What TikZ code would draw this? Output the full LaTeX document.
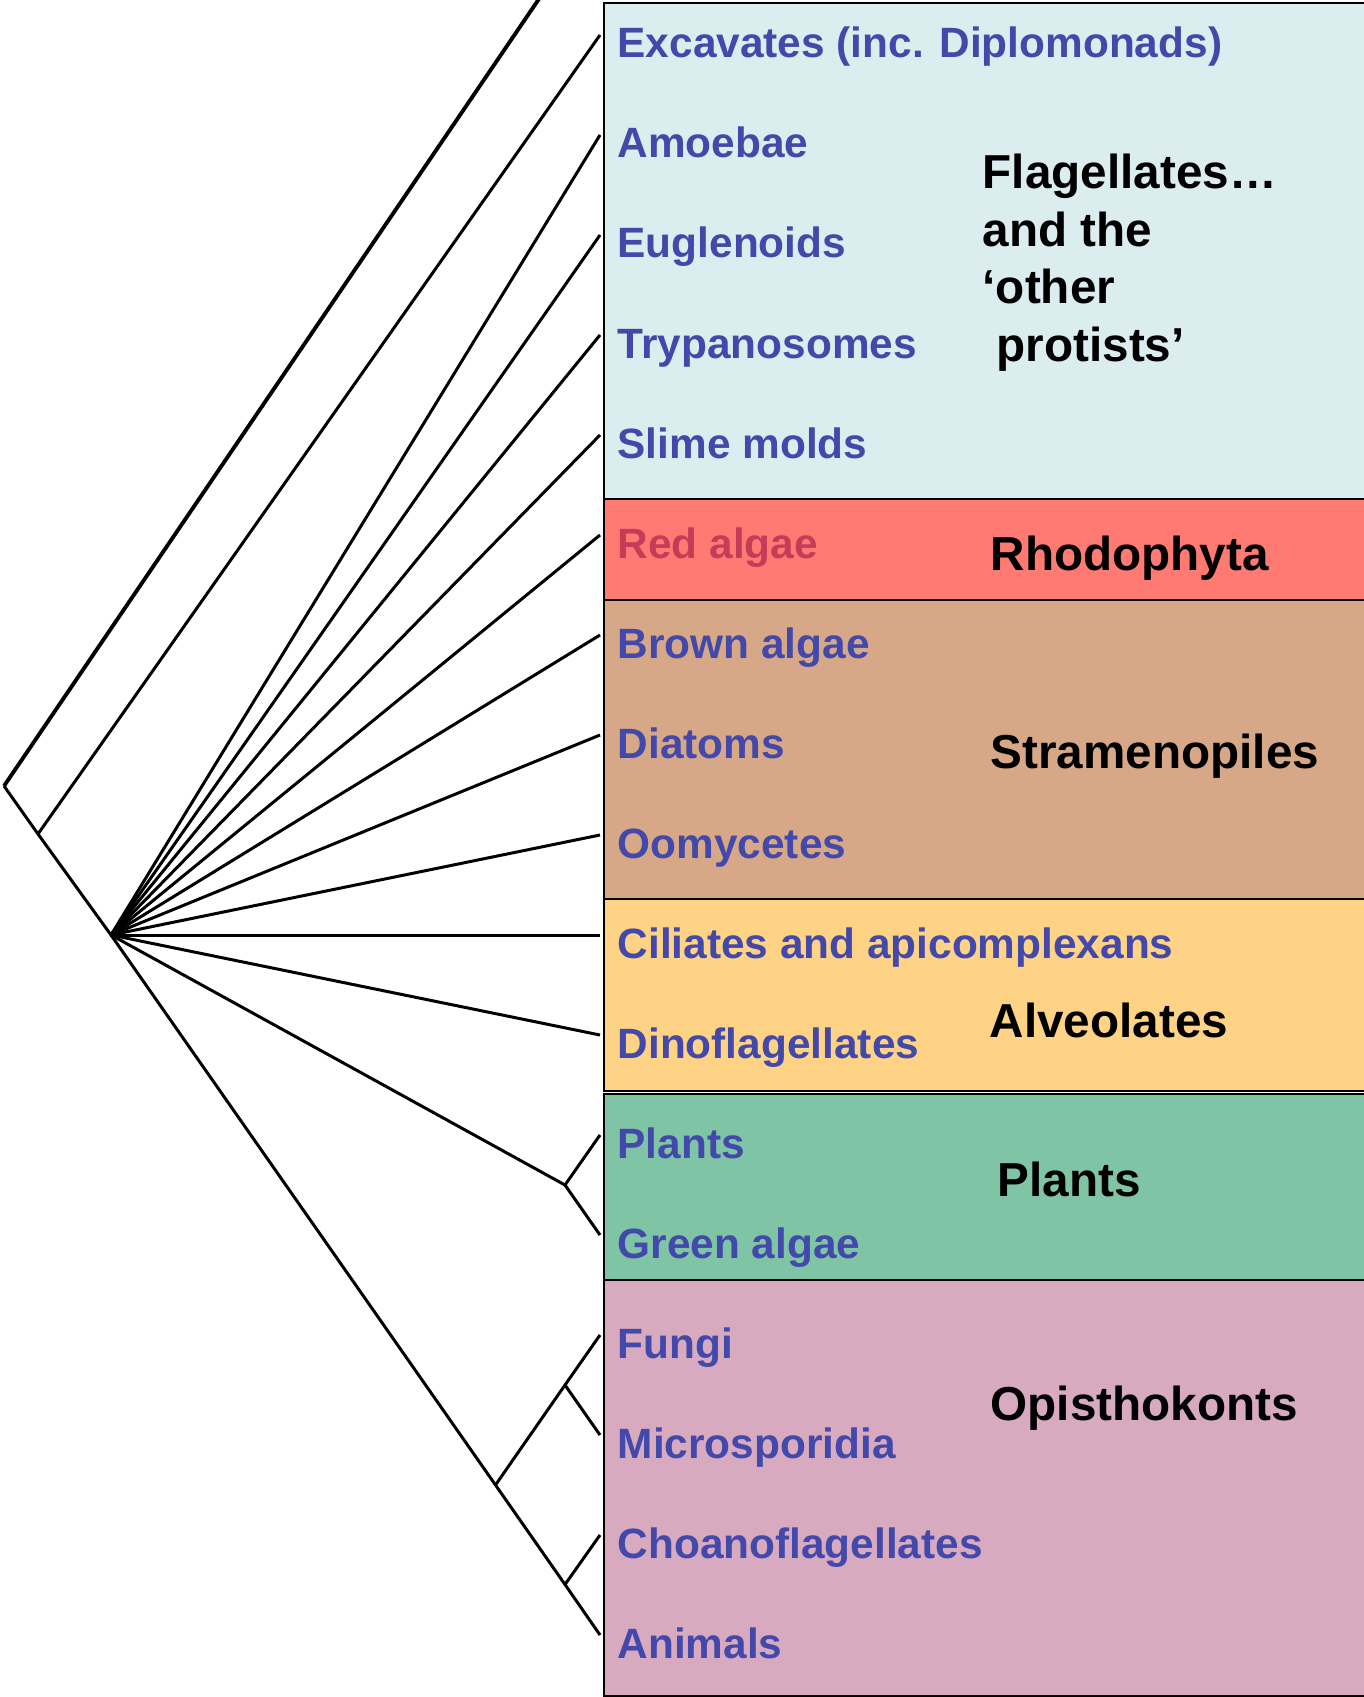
\documentclass[tikz,border=0pt]{standalone}
\usepackage{fontspec}
\setmainfont{Liberation Sans}
\definecolor{cblue}{RGB}{219,237,239}
\definecolor{cred}{RGB}{255,122,115}
\definecolor{cbrown}{RGB}{215,168,136}
\definecolor{cyellow}{RGB}{255,211,133}
\definecolor{cgreen}{RGB}{126,196,165}
\definecolor{cpink}{RGB}{216,170,191}
\definecolor{taxblue}{RGB}{67,73,170}
\definecolor{taxred}{RGB}{196,61,88}
\tikzset{
  boxline/.style={draw=black, line width=0.55pt},
  branch/.style={draw=black, line width=0.85pt, line join=round},
  taxon/.style={anchor=base west, inner sep=0pt, font=\fontsize{12.05}{14}\selectfont\bfseries, text=taxblue},
  grouplabel/.style={anchor=base west, inner sep=0pt, font=\fontsize{13.55}{16}\selectfont\bfseries, text=black}
}
\begin{document}
\begin{tikzpicture}[x=0.01cm,y=-0.01cm]
\useasboundingbox (0,0) rectangle (1364,1697);
\fill[white] (0,0) rectangle (1364,1697);
% coloured group boxes
\draw[boxline, fill=cblue]   (604,3)    rectangle (1372,499);
\draw[boxline, fill=cred]    (604,499)  rectangle (1372,600);
\draw[boxline, fill=cbrown]  (604,600)  rectangle (1372,899);
\draw[boxline, fill=cyellow] (604,899)  rectangle (1372,1091);
\draw[boxline, fill=cgreen]  (604,1094) rectangle (1372,1280);
\draw[boxline, fill=cpink]   (604,1280) rectangle (1372,1696);
% tree nodes
\coordinate (root) at (4,786);
\coordinate (out) at (545,-10);
\coordinate (n2) at (38,834);
\coordinate (P) at (111,935);
\coordinate (G) at (565,1185);
\coordinate (O) at (495.5,1485);
\coordinate (F) at (565,1385);
\coordinate (A) at (565,1584.5);
\foreach \i in {0,...,16} { \coordinate (t\i) at (600,{35+100*\i}); }
% branches
\draw[branch, line width=1.1pt] (root) -- (out);
\draw[branch] (root) -- (n2) -- (P);
\draw[branch] (n2) -- (t0);
\foreach \i in {1,...,10} { \draw[branch] (P) -- (t\i); }
\draw[branch] (P) -- (G);
\draw[branch] (G) -- (t11);
\draw[branch] (G) -- (t12);
\draw[branch] (P) -- (O) -- (A) -- (t16);
\draw[branch] (O) -- (F) -- (t13);
\draw[branch] (F) -- (t14);
\draw[branch] (A) -- (t15);
% taxon labels
\node[taxon] (l0)  at (617,58)   {Excavates (inc. Diplomonads)};
\node[taxon] (l1)  at (617,158)  {Amoebae};
\node[taxon] (l2)  at (617,258)  {Euglenoids};
\node[taxon] (l3)  at (617,358)  {Trypanosomes};
\node[taxon] (l4)  at (617,458)  {Slime molds};
\node[taxon, text=taxred] (l5)  at (617,558)  {Red algae};
\node[taxon] (l6)  at (617,658)  {Brown algae};
\node[taxon] (l7)  at (617,758)  {Diatoms};
\node[taxon] (l8)  at (617,858)  {Oomycetes};
\node[taxon] (l9)  at (617,958)  {Ciliates and apicomplexans};
\node[taxon] (l10) at (617,1058) {Dinoflagellates};
\node[taxon] (l11) at (617,1158) {Plants};
\node[taxon] (l12) at (617,1258) {Green algae};
\node[taxon] (l13) at (617,1358) {Fungi};
\node[taxon] (l14) at (617,1458) {Microsporidia};
\node[taxon] (l15) at (617,1558) {Choanoflagellates};
\node[taxon] (l16) at (617,1658) {Animals};
% group labels
\node[grouplabel] (g1a) at (982,189) {Flagellates…};
\node[grouplabel] (g1b) at (982,247) {and the};
\node[grouplabel] (g1c) at (982,304) {‘other};
\node[grouplabel] (g1d) at (996,361) {protists’};
\node[grouplabel] (g2) at (990,570)  {Rhodophyta};
\node[grouplabel] (g3) at (990,768)  {Stramenopiles};
\node[grouplabel] (g4) at (989,1037) {Alveolates};
\node[grouplabel] (g5) at (997,1196) {Plants};
\node[grouplabel] (g6) at (990,1420) {Opisthokonts};
\end{tikzpicture}
\end{document}
